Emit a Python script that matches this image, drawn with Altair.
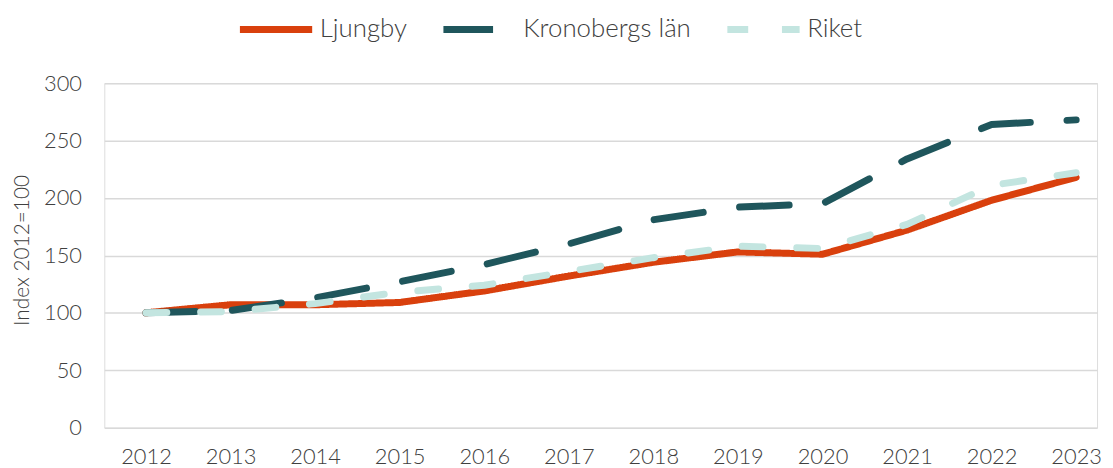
import altair as alt
import pandas as pd

years = list(range(2012, 2024))
ljungby = [100, 107, 107, 109, 119, 132, 144, 153, 151, 172, 198, 218]
kronoberg = [100, 102, 113, 127, 142, 160, 181, 192, 195, 234, 264, 268]
riket = [100, 101, 108, 118, 124, 136, 148, 158, 156, 177, 211, 222]

series_names = ["Ljungby", "Kronobergs län", "Riket"]
series_values = [ljungby, kronoberg, riket]
colors = ["#D9400D", "#1F565C", "#C3E5E0"]
dashes = [[1, 0], [50, 37], [21, 34]]
y_ticks = [0, 50, 100, 150, 200, 250, 300]

rows = []
for name, vals in zip(series_names, series_values):
    for yr, v in zip(years, vals):
        rows.append({"Serie": name, "År": yr, "Värde": v})
df = pd.DataFrame(rows)

FONT = "Lato"
TEXT = "#404040"
W = 300

legend = alt.Legend(
    title=None, orient="none", direction="horizontal",
    legendX=133, legendY=-94, symbolType="stroke", symbolSize=5300,
    symbolStrokeWidth=7, labelFontSize=26, labelFont=FONT, labelFontWeight=W,
    labelColor=TEXT, labelOffset=4, columnPadding=22, labelLimit=400,
)

chart = (
    alt.Chart(df)
    .mark_line(strokeWidth=7, strokeCap="round", strokeJoin="round")
    .encode(
        x=alt.X(
            "År:Q",
            scale=alt.Scale(domain=[2011.507, 2023.247], nice=False, zero=False),
            axis=alt.Axis(
                values=years, format="d", title=None, grid=False, ticks=False,
                domain=False, labelPadding=19, labelFontSize=22, labelColor=TEXT,
                labelFont=FONT, labelFontWeight=W,
            ),
        ),
        y=alt.Y(
            "Värde:Q",
            scale=alt.Scale(domain=[0, 300], nice=False),
            axis=alt.Axis(
                values=y_ticks, title="Index 2012=100", grid=True, gridColor="#D9D9D9",
                gridWidth=1.5, ticks=False, domain=False, labelPadding=23,
                labelFontSize=22, labelColor=TEXT, labelFont=FONT, labelFontWeight=W,
                titleFont=FONT, titleFontSize=21, titleFontWeight=W,
                titleColor=TEXT, titleX=-82, titleY=168, titleAngle=-90,
                titleAlign="center", titleBaseline="middle",
            ),
        ),
        color=alt.Color(
            "Serie:N",
            scale=alt.Scale(domain=series_names, range=colors),
            sort=series_names,
            legend=legend,
        ),
        strokeDash=alt.StrokeDash(
            "Serie:N",
            scale=alt.Scale(domain=series_names, range=dashes),
            sort=series_names,
            legend=legend,
        ),
        order=alt.Order("År:Q"),
    )
    .properties(
        width=1000,
        height=347,
        autosize=alt.AutoSizeParams(type="none"),
        padding={"left": 97, "top": 74, "right": 8, "bottom": 44},
    )
    .configure_view(stroke=None)
    .configure(background="white")
)

chart.save("out.html", embed_options={"renderer": "svg", "actions": False})
